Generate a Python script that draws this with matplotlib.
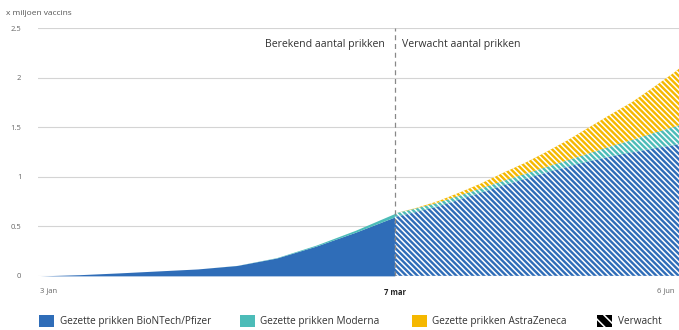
import numpy as np
import matplotlib.pyplot as plt
from matplotlib.patches import Patch

plt.rcParams['font.family'] = ['Open Sans', 'DejaVu Sans']
plt.rcParams['hatch.linewidth'] = 1.1

# weeks since 3 jan; week 9 = 7 mar, week 22 = 6 jun
weeks_past = [0, 1, 2, 3, 4, 5, 6, 7, 8, 9]
pfizer_past = [0.0, 0.012, 0.03, 0.05, 0.07, 0.105, 0.18, 0.30, 0.44, 0.595]
moderna_past = [0.0, 0.0, 0.0, 0.0, 0.0, 0.001, 0.004, 0.01, 0.02, 0.035]
astra_past = [0, 0, 0, 0, 0, 0, 0, 0, 0, 0]

weeks_future = [9, 10, 11, 12, 13, 14, 15, 16, 17, 18, 19, 20, 21, 22, 22.2]
pfizer_future = [0.595, 0.645, 0.70, 0.77, 0.84, 0.91, 0.975, 1.04, 1.10, 1.155, 1.205, 1.245, 1.285, 1.32, 1.33]
moderna_future = [0.035, 0.036, 0.038, 0.04, 0.042, 0.046, 0.05, 0.056, 0.065, 0.08, 0.10, 0.125, 0.155, 0.185, 0.19]
astra_future = [0.0, 0.005, 0.015, 0.03, 0.05, 0.08, 0.11, 0.15, 0.20, 0.26, 0.32, 0.38, 0.46, 0.55, 0.57]

tick_weeks = [0, 9, 22]
tick_labels = ['3 jan', '7 mar', '6 jun']

blue = '#2f6db8'
teal = '#4cbcb8'
yellow = '#f5b800'


def fwd(w):
    w = np.asarray(w, dtype=float)
    return np.where(w <= 9, w, 9 + (w - 9) * 0.546)


def inv(v):
    v = np.asarray(v, dtype=float)
    return np.where(v <= 9, v, 9 + (v - 9) / 0.546)


fig = plt.figure(figsize=(6.79, 3.30), dpi=100)
ax = fig.add_axes([0.056, 0.164, 0.944, 0.751])
ax.set_xscale('function', functions=(fwd, inv))

# past: solid
p = np.array(pfizer_past)
m = p + np.array(moderna_past)
a = m + np.array(astra_past)
ax.fill_between(weeks_past, 0, p, color=blue, lw=0, zorder=2)
ax.fill_between(weeks_past, p, m, color=teal, lw=0, zorder=2)
ax.fill_between(weeks_past, m, a, color=yellow, lw=0, zorder=2)

# future: hatched
p = np.array(pfizer_future)
m = p + np.array(moderna_future)
a = m + np.array(astra_future)
for lo, hi, c in [(0, p, blue), (p, m, teal), (m, a, yellow)]:
    ax.fill_between(weeks_future, lo, hi, facecolor=c, edgecolor='white',
                    hatch='\\\\\\\\\\\\', lw=0, zorder=2)

ax.set_xlim(-0.05, 22.2)
ax.set_ylim(0, 2.5)
ax.set_yticks([0, 0.5, 1, 1.5, 2, 2.5])
ax.set_yticklabels(['0', '0.5', '1', '1.5', '2', '2.5'])
ax.grid(axis='y', color='#d4d4d4', lw=0.8, zorder=0)
ax.set_axisbelow(True)
for s in ax.spines.values():
    s.set_visible(False)
ax.tick_params(axis='both', length=0, labelsize=5.5, labelcolor='#666666')
ax.tick_params(axis='y', pad=12)
ax.set_xticks(tick_weeks)
ax.set_xticklabels(tick_labels)
ax.tick_params(axis='x', pad=9)
xl = ax.get_xticklabels()
xl[0].set_ha('left')
xl[1].set_fontweight('bold')
xl[1].set_color('#222222')
xl[2].set_ha('right')

ax.axvline(9, color='#888888', lw=0.9, ls=(0, (4, 3)), zorder=3)
ax.text(8.75, 2.33, 'Berekend aantal prikken', ha='right', va='center',
        fontsize=7.6, color='#333333')
ax.text(9.35, 2.33, 'Verwacht aantal prikken', ha='left', va='center',
        fontsize=7.6, color='#333333')

fig.text(0.009, 0.958, 'x miljoen vaccins', fontsize=6, color='#555555', va='center')

handles = [
    Patch(facecolor=blue, lw=0, label='Gezette prikken BioNTech/Pfizer'),
    Patch(facecolor=teal, lw=0, label='Gezette prikken Moderna'),
    Patch(facecolor=yellow, lw=0, label='Gezette prikken AstraZeneca'),
    Patch(facecolor='black', edgecolor='white', hatch='\\\\\\', lw=0, label='Verwacht'),
]
legend_x = [39, 240, 412, 597]
for h, lx in zip(handles, legend_x):
    fig.legend(handles=[h], loc='center left', bbox_to_anchor=(lx / 679, 0.027),
               frameon=False, fontsize=7.2, handlelength=1.5, handleheight=1.5,
               handletextpad=0.55, borderpad=0, borderaxespad=0,
               labelcolor='#333333')

fig.savefig('out.png', dpi=100)
